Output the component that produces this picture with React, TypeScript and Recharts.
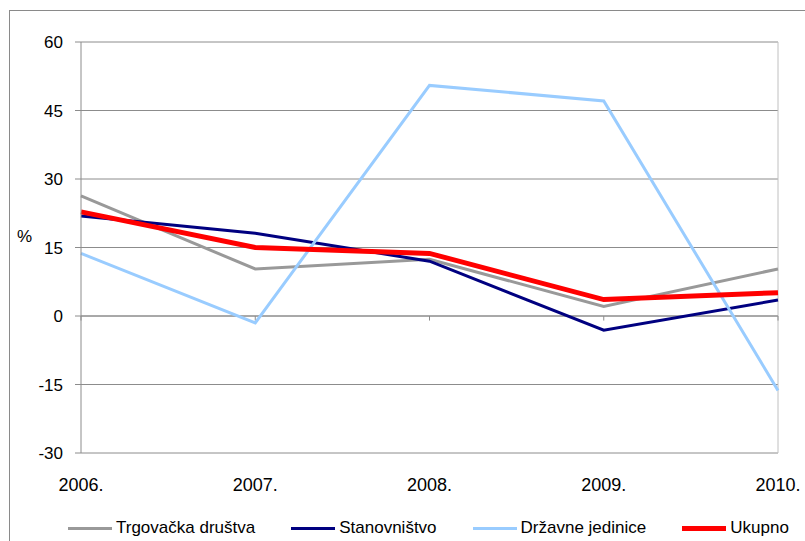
import React from 'react';
import {
    LineChart,
    Line,
    XAxis,
    YAxis,
    CartesianGrid,
    ReferenceLine,
    Legend,
} from 'recharts';

const YEARS = ['2006.', '2007.', '2008.', '2009.', '2010.'];
const TRGOVACKA = [26.3, 10.3, 12.4, 2.1, 10.3];
const STANOVNISTVO = [21.9, 18.1, 12.0, -3.1, 3.5];
const DRZAVNE = [13.7, -1.5, 50.5, 47.1, -16.3];
const UKUPNO = [22.8, 15.0, 13.7, 3.6, 5.1];
const Y_TICKS = [-30, -15, 0, 15, 30, 45, 60];

const SERIES = [
    { key: 'Trgovačka društva', values: TRGOVACKA, color: '#999999', width: 3 },
    { key: 'Stanovništvo', values: STANOVNISTVO, color: '#000080', width: 3 },
    { key: 'Državne jedinice', values: DRZAVNE, color: '#99ccff', width: 3 },
    { key: 'Ukupno', values: UKUPNO, color: '#ff0000', width: 5 },
];

const data = YEARS.map((year, i) => {
    const row: Record<string, number | string> = { year };
    SERIES.forEach(s => {
        row[s.key] = s.values[i];
    });
    return row;
});

const FONT = '"Liberation Sans", Arial, sans-serif';

// legenda u stilu Excela: kratka crta pa naziv
const renderLegend = () => (
    <div
        style={{
            display: 'flex',
            alignItems: 'center',
            height: 30,
            width: 805,
            paddingTop: 4,
            boxSizing: 'border-box',
            fontFamily: FONT,
            fontSize: 17,
            color: '#000',
            paddingLeft: 68,
            whiteSpace: 'nowrap',
        }}
    >
        {SERIES.map(s => (
            <div
                key={s.key}
                style={{ display: 'flex', alignItems: 'center', marginRight: 36, flexShrink: 0 }}
            >
                <span
                    style={{
                        display: 'inline-block',
                        width: 44,
                        height: s.width,
                        background: s.color,
                        marginRight: 4,
                    }}
                />
                <span>{s.key}</span>
            </div>
        ))}
    </div>
);

export default function App() {
    return (
        <div
            style={{
                position: 'absolute',
                top: 0,
                left: 0,
                width: 805,
                height: 541,
                overflow: 'hidden',
                background: '#fff',
            }}
        >
            <div
                style={{
                    position: 'absolute',
                    top: 10,
                    left: 9,
                    width: 900,
                    height: 700,
                    border: '1px solid #8a8a8a',
                }}
            />
            <div style={{ position: 'absolute', top: 0, left: 0 }}>
                <LineChart
                    width={805}
                    height={541}
                    data={data}
                    margin={{ top: 42, right: 27, left: 0, bottom: 0 }}
                >
                    <CartesianGrid horizontal vertical={false} stroke="#8c8c8c" strokeWidth={1} />
                    <XAxis
                        dataKey="year"
                        padding={{ left: 0, right: 0 }}
                        axisLine={false}
                        tickLine={false}
                        height={58}
                        tick={{ fill: '#000', fontSize: 18, fontFamily: FONT }}
                        tickMargin={19}
                        interval={0}
                    />
                    <YAxis
                        domain={[-30, 60]}
                        ticks={Y_TICKS}
                        width={81}
                        axisLine={{ stroke: '#8c8c8c' }}
                        tickLine={{ stroke: '#8c8c8c' }}
                        tickSize={6}
                        tickMargin={12}
                        tick={{ fill: '#000', fontSize: 17, fontFamily: FONT }}
                        label={{
                            value: '%',
                            position: 'insideLeft',
                            offset: 17,
                            dy: -12,
                            fill: '#000',
                            fontSize: 17,
                            fontFamily: FONT,
                        }}
                    />
                    <ReferenceLine x={YEARS[YEARS.length - 1]} stroke="#c0c0c0" />
                    <ReferenceLine y={0} stroke="#8c8c8c" />
                    {YEARS.map(y => (
                        <ReferenceLine
                            key={y}
                            segment={[
                                { x: y, y: 0 },
                                { x: y, y: -1 },
                            ]}
                            stroke="#8c8c8c"
                        />
                    ))}
                    {SERIES.map(s => (
                        <Line
                            key={s.key}
                            type="linear"
                            dataKey={s.key}
                            stroke={s.color}
                            strokeWidth={s.width}
                            dot={false}
                            activeDot={false}
                            isAnimationActive={false}
                        />
                    ))}
                    <Legend
                        verticalAlign="bottom"
                        align="left"
                        height={30}
                        content={renderLegend}
                        wrapperStyle={{ left: 0, width: 805 }}
                    />
                </LineChart>
            </div>
        </div>
    );
}
